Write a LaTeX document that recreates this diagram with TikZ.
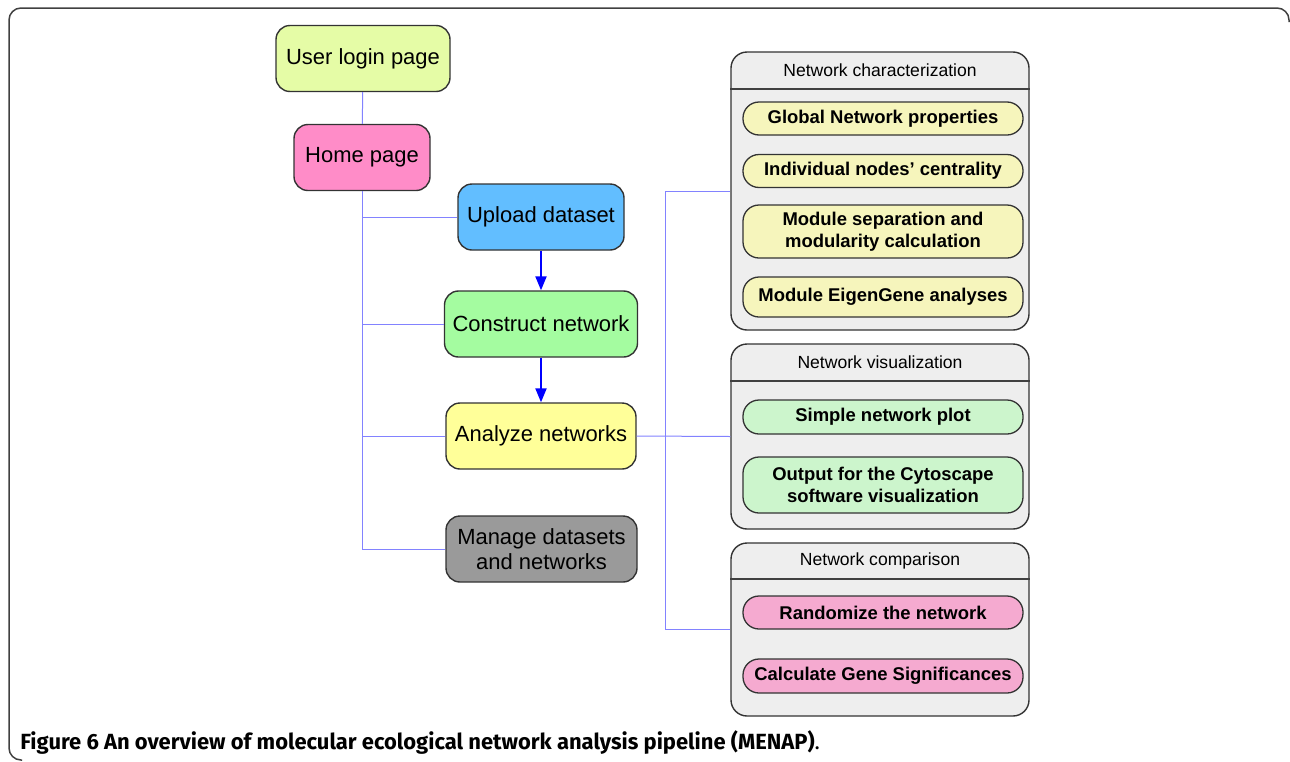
\documentclass[tikz,border=0pt]{standalone}
\usepackage{fontspec}
\setmainfont{Liberation Sans}
\newfontfamily\capfont{Fira Sans}
\usetikzlibrary{arrows.meta}
\newlength\px
\setlength\px{0.02cm}
\definecolor{login-col}{HTML}{E5FCA6}
\definecolor{home-col}{HTML}{FF8CC8}
\definecolor{upload-col}{HTML}{62BEFF}
\definecolor{construct-col}{HTML}{A4FCA0}
\definecolor{analyze-col}{HTML}{FFFF99}
\definecolor{manage-col}{HTML}{9A9A9A}
\definecolor{group-col}{HTML}{EEEEEE}
\definecolor{char-col}{HTML}{F6F5BC}
\definecolor{viz-col}{HTML}{CCF5CC}
\definecolor{comp-col}{HTML}{F5AAD0}
\definecolor{link-col}{HTML}{8282FF}
\tikzstyle{main-node}=[draw=black!80,line width=1.4\px,rounded corners=14\px,minimum height=66\px,align=center,inner sep=0,font=\fontsize{12.5}{14.5}\selectfont]
\tikzstyle{group-node}=[draw=black!80,fill=group-col,line width=1.4\px,rounded corners=16\px,minimum width=298\px]
\tikzstyle{title-node}=[inner sep=0,font=\fontsize{10}{12}\selectfont]
\tikzstyle{item-node}=[draw=black!80,line width=1.3\px,rounded corners=16\px,minimum width=280\px,align=center,inner sep=0,font=\bfseries\fontsize{10.5}{12.5}\selectfont]
\tikzstyle{link-line}=[draw=link-col,line width=1\px]
\tikzstyle{flow-line}=[draw=blue,line width=2\px]
\tikzstyle{frame-line}=[draw=black!75,line width=1.5\px]

\begin{document}
\begin{tikzpicture}[x=0.02cm,y=-0.02cm]
	\useasboundingbox (0,0) rectangle (1290,761);
	\draw[frame-line,rounded corners=12\px] (1289,22) |- (9,8) |- (22,760);

	% pages and steps
	\begin{scope}
	\node (login)[main-node,fill=login-col,minimum width=174\px] at (363,58.5) {User login page};
	\node (home)[main-node,fill=home-col,minimum width=136\px] at (362,157.5) {Home page};
	\node (upload)[main-node,fill=upload-col,minimum width=166\px] at (541,217) {Upload dataset};
	\node (construct)[main-node,fill=construct-col,minimum width=193\px] at (541,324) {Construct network};
	\node (analyze)[main-node,fill=analyze-col,minimum width=190\px] at (541,436) {Analyze networks};
	\node (manage)[main-node,fill=manage-col,minimum width=191\px] at (541.5,549) {Manage datasets\\and networks};
	\end{scope}

	% analysis groups
	\begin{scope}
	\node (char)[group-node,minimum height=278\px] at (880,191) {};
	\node (viz)[group-node,minimum height=185\px] at (880,436.5) {};
	\node (comp)[group-node,minimum height=173\px] at (880,629.5) {};
	\draw[frame-line,line width=1.4\px] (char.west |- 0,89) -- (char.east |- 0,89);
	\draw[frame-line,line width=1.4\px] (viz.west |- 0,381) -- (viz.east |- 0,381);
	\draw[frame-line,line width=1.4\px] (comp.west |- 0,579) -- (comp.east |- 0,579);
	\node (char-t)[title-node] at (880,70) {Network characterization};
	\node (viz-t)[title-node] at (880,362) {Network visualization};
	\node (comp-t)[title-node] at (880,561) {Network comparison};
	\end{scope}

	\begin{scope}
	\node (glob)[item-node,fill=char-col,minimum height=33\px] at (883,118.5) {Global Network properties};
	\node (cent)[item-node,fill=char-col,minimum height=33\px] at (883,171) {Individual nodes’ centrality};
	\node (modu)[item-node,fill=char-col,minimum height=53\px] at (883,231.5) {Module separation and\\modularity calculation};
	\node (eigen)[item-node,fill=char-col,minimum height=40\px] at (883,297) {Module EigenGene analyses};
	\node (plot)[item-node,fill=viz-col,minimum height=34\px] at (883,417) {Simple network plot};
	\node (cyto)[item-node,fill=viz-col,minimum height=56\px] at (883,485) {Output for the Cytoscape\\software visualization};
	\node (rand)[item-node,fill=comp-col,minimum height=33\px] at (883,612.5) {Randomize the network};
	\node (gene)[item-node,fill=comp-col,minimum height=34\px] at (883,676) {Calculate Gene Significances};
	\end{scope}

	% thin links
	\begin{scope}[every path/.style=link-line]
	\coordinate (hub) at (665,436);
	\path (login) -- (home);
	\path (home.south) |- (upload.west);
	\path (home.south) |- (construct.west);
	\path (home.south) |- (analyze.west);
	\path (home.south) |- (manage.west);
	\path (analyze.east) -- (viz.west);
	\path (hub) |- (char.west);
	\path (hub) |- (comp.west);
	\end{scope}

	% work flow
	\begin{scope}[>={Triangle[length=8pt,width=6.3pt]}, every edge/.style=flow-line]
	\path [->] (upload.south) edge (upload.south |- construct.north);
	\path [->] (construct.south) edge (construct.south |- analyze.north);
	\end{scope}

	\node (caption)[anchor=base west,inner sep=0,font=\capfont\bfseries\fontsize{12.5}{15}\selectfont] at (20,749) {Figure 6 An overview of molecular ecological network analysis pipeline (MENAP)\textmd{.}};
\end{tikzpicture}
\end{document}
